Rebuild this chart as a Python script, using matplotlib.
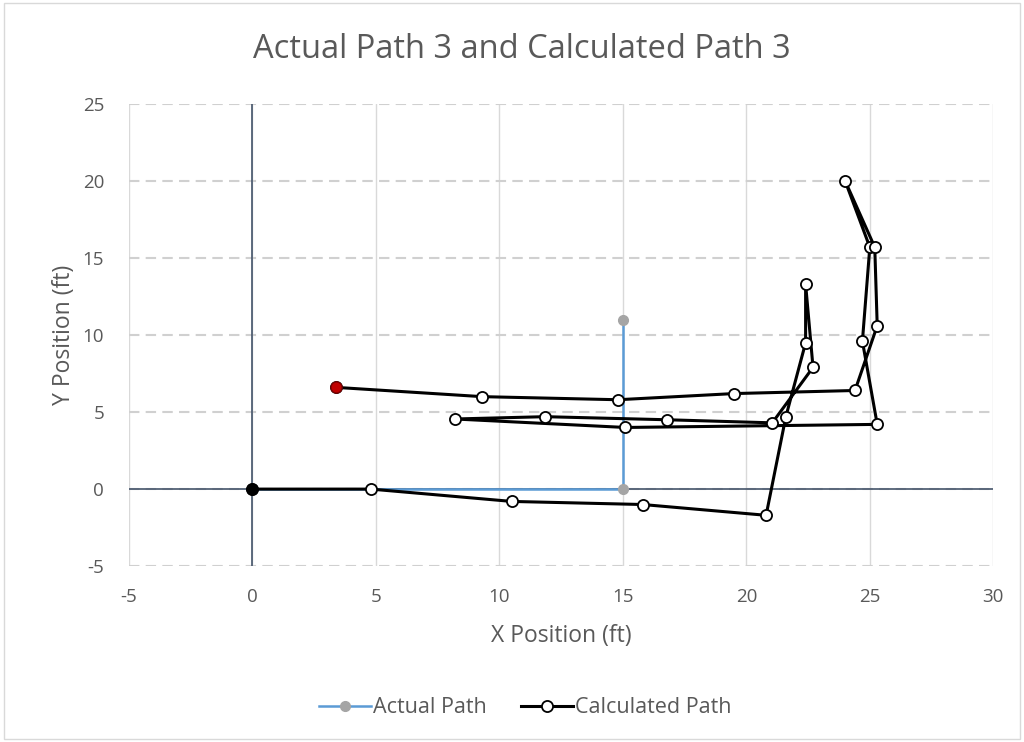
import matplotlib
matplotlib.use("Agg")
import matplotlib.pyplot as plt
from matplotlib.patches import Rectangle

plt.rcParams['font.family'] = ['Open Sans', 'DejaVu Sans']
plt.rcParams['axes.unicode_minus'] = False

# actual path (ft)
actual_x = [0, 15, 15]
actual_y = [0, 0, 11]

# calculated path (ft), in the order it was traced
calc_x = [0, 4.8, 10.5, 15.8, 20.8, 21.6, 22.4, 22.4, 22.7, 21.05, 16.8, 11.85,
          8.2, 15.1, 25.3, 24.7, 25.0, 24.0, 25.2, 25.3, 24.4, 19.5, 14.8, 9.3, 3.4]
calc_y = [0, 0, -0.8, -1.0, -1.7, 4.7, 9.5, 13.3, 7.9, 4.3, 4.5, 4.7,
          4.55, 4.0, 4.2, 9.6, 15.7, 20.0, 15.7, 10.6, 6.4, 6.2, 5.8, 6.0, 6.6]

x_ticks = [-5, 0, 5, 10, 15, 20, 25, 30]
y_ticks = [-5, 0, 5, 10, 15, 20, 25]

text_grey = '#595959'

fig = plt.figure(figsize=(10.24, 7.42), dpi=100)
ax = fig.add_axes([0.126, 0.237, 0.844, 0.623])

# chart border
fig.patches.append(Rectangle((0.004, 0.004), 0.992, 0.992, transform=fig.transFigure,
                             fill=False, edgecolor='#d9d9d9', linewidth=1))

ax.set_xlim(-5, 30)
ax.set_ylim(-5, 25)
ax.set_xticks(x_ticks)
ax.set_yticks(y_ticks)
for s in ax.spines.values():
    s.set_visible(False)
ax.tick_params(length=0, labelsize=13.5, colors=text_grey)
ax.tick_params(axis='x', pad=16)
ax.tick_params(axis='y', pad=18)

for x in x_ticks:
    ax.axvline(x, color='#d9d9d9', linewidth=1, zorder=0)
for y in y_ticks:
    ax.axhline(y, color='#d0d0d0', linewidth=1.5, linestyle=(0, (5, 3)), zorder=0)
ax.axvline(0, color='#44546a', linewidth=1.2, zorder=1)
ax.axhline(0, color='#44546a', linewidth=1.2, zorder=1)

ax.plot(actual_x, actual_y, color='#5b9bd5', linewidth=1.8, marker='o',
        markersize=7, markerfacecolor='#a5a5a5', markeredgecolor='#a5a5a5',
        label='Actual Path', zorder=2)
ax.plot(calc_x, calc_y, color='black', linewidth=2.2, marker='o',
        markersize=8, markerfacecolor='white', markeredgecolor='black',
        markeredgewidth=1.3, label='Calculated Path', zorder=3)
# start and end points
ax.plot(calc_x[0], calc_y[0], marker='o', markersize=8, color='black', zorder=4)
ax.plot(calc_x[-1], calc_y[-1], marker='o', markersize=8, markerfacecolor='#c00000',
        markeredgecolor='#7f0000', zorder=4)

ax.set_xlabel('X Position (ft)', fontsize=16.5, color=text_grey, labelpad=13)
ax.set_ylabel('Y Position (ft)', fontsize=16.5, color=text_grey, labelpad=5)
fig.text(0.51, 0.933, 'Actual Path 3 and Calculated Path 3', ha='center', va='center',
         fontsize=23.5, color=text_grey)

fig.legend(loc='center', bbox_to_anchor=(0.513, 0.046), ncol=2, frameon=False,
           fontsize=15.5, labelcolor=text_grey, handlelength=2.4, handletextpad=0.1,
           columnspacing=1.6)

fig.savefig('out.png', dpi=100)
